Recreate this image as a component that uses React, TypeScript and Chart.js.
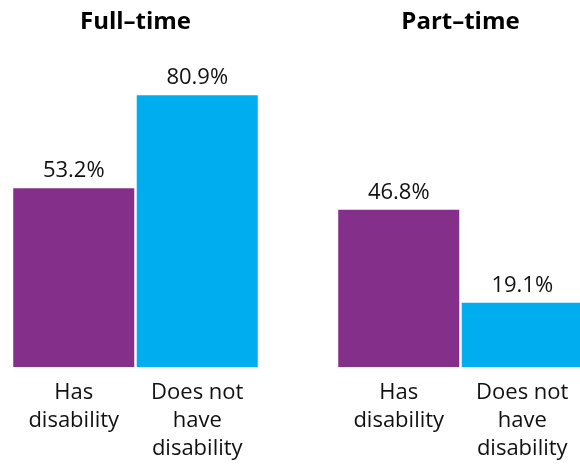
import React, { useEffect, useRef } from "react";
import { Chart, registerables } from "chart.js";

Chart.register(...registerables);

const groupTitles = ["Full–time", "Part–time"];
const categoryLabels: string[][] = [["Has", "disability"], ["Does not", "have", "disability"]];
const fullTimeValues = [53.2, 80.9];
const partTimeValues = [46.8, 19.1];
const barColors = ["#84308B", "#00AEEF"];
const yMax = 90;

const FONT = "'Open Sans', 'Noto Sans', sans-serif";
const CANVAS_H = 477;

const valueLabelPlugin = {
  id: "valueLabels",
  afterDatasetsDraw(chart: any) {
    const ctx = chart.ctx;
    ctx.save();
    ctx.font = `22px ${FONT}`;
    ctx.fillStyle = "#111111";
    ctx.textAlign = "center";
    ctx.textBaseline = "alphabetic";
    chart.data.datasets.forEach((ds: any, di: number) => {
      const meta = chart.getDatasetMeta(di);
      meta.data.forEach((bar: any, i: number) => {
        const v = ds.data[i];
        ctx.fillText(`${Number(v).toFixed(1)}%`, bar.x, bar.y - 11);
      });
    });
    ctx.restore();
  },
};

function GroupChart({ title, values, left }: { title: string; values: number[]; left: number }) {
  const ref = useRef<HTMLCanvasElement>(null);
  useEffect(() => {
    if (!ref.current) return;
    const chart = new Chart(ref.current, {
      type: "bar",
      data: {
        labels: categoryLabels,
        datasets: [
          {
            data: values,
            backgroundColor: barColors,
            borderWidth: 0,
            barPercentage: 0.98,
            categoryPercentage: 1,
          },
        ],
      },
      options: {
        animation: false,
        responsive: false,
        maintainAspectRatio: false,
        layout: { padding: { left: 0, right: 0, top: 0, bottom: 2 } },
        plugins: {
          legend: { display: false },
          tooltip: { enabled: false },
          title: {
            display: true,
            text: title,
            color: "#000000",
            font: { family: FONT, size: 24, weight: "bold", lineHeight: 1.2 },
            padding: { top: 8, bottom: 28 },
          },
        },
        scales: {
          x: {
            grid: { display: false, drawTicks: false },
            border: { display: false },
            ticks: {
              color: "#111111",
              font: { family: FONT, size: 22, lineHeight: "28px" },
              padding: 12,
              maxRotation: 0,
              autoSkip: false,
            },
          },
          y: {
            display: false,
            min: 0,
            max: yMax,
          },
        },
      },
      plugins: [valueLabelPlugin],
    });
    return () => chart.destroy();
  }, [title, values]);
  return (
    <canvas
      ref={ref}
      width={247}
      height={CANVAS_H}
      style={{ position: "absolute", left, top: 0, width: 247, height: CANVAS_H }}
    />
  );
}

export default function App() {
  return (
    <div
      style={{
        position: "absolute",
        left: 0,
        top: 0,
        width: 580,
        height: 464,
        overflow: "hidden",
        background: "#ffffff",
      }}
    >
      <GroupChart title={groupTitles[0]} values={fullTimeValues} left={12} />
      <GroupChart title={groupTitles[1]} values={partTimeValues} left={337} />
    </div>
  );
}
